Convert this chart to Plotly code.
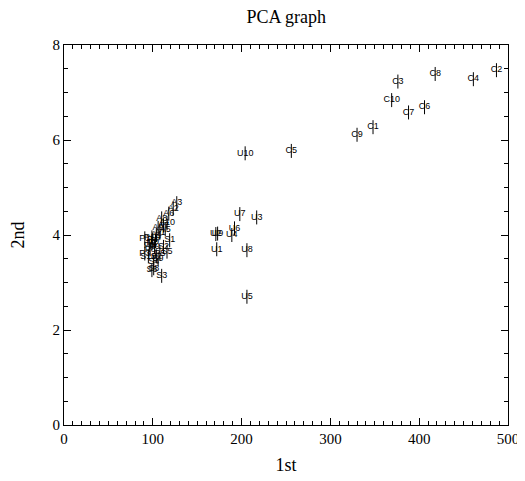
import plotly.graph_objects as go

labels_c = ["C1", "C2", "C3", "C4", "C5", "C6", "C7", "C8", "C9", "C10"]
x_c = [348, 487, 376, 461, 256, 406, 388, 418, 330, 369]
y_c = [6.27, 7.47, 7.23, 7.28, 5.77, 6.69, 6.58, 7.39, 6.11, 6.84]

labels_u = ["U1", "U2", "U3", "U4", "U5", "U6", "U7", "U8", "U9", "U10"]
x_u = [172, 171, 217, 189, 206, 192, 198, 206, 173, 204]
y_u = [3.70, 4.02, 4.37, 4.00, 2.70, 4.14, 4.44, 3.68, 4.03, 5.72]

labels_a = ["A1", "A2", "A3", "A4", "A5", "A6", "A7", "A8", "A9", "A10"]
x_a = [108, 123, 127, 104, 114, 118, 112, 110, 106, 116]
y_a = [4.05, 4.56, 4.67, 4.00, 4.12, 4.45, 4.20, 4.35, 4.15, 4.25]

labels_p = ["P1", "P2", "P3", "P4", "P5", "P6", "P7", "P8", "P9", "P10"]
x_p = [91, 99, 91, 100, 108, 96, 103, 97, 102, 99]
y_p = [3.93, 3.83, 3.61, 3.90, 3.61, 3.78, 3.87, 3.70, 3.75, 3.95]

labels_s = ["S1", "S2", "S3", "S4", "S5", "S6", "S7", "S8", "S9", "S10"]
x_s = [119, 112, 110, 101, 116, 99, 104, 101, 106, 95]
y_s = [3.89, 3.75, 3.14, 3.44, 3.65, 3.26, 3.55, 3.30, 3.50, 3.55]

x_ticks = [0, 100, 200, 300, 400, 500]
y_ticks = [0, 2, 4, 6, 8]

fig = go.Figure()
for xs, ys, ls in [(x_c, y_c, labels_c), (x_u, y_u, labels_u), (x_a, y_a, labels_a),
                   (x_p, y_p, labels_p), (x_s, y_s, labels_s)]:
    fig.add_trace(go.Scatter(
        x=xs, y=ys, text=ls, mode="markers+text",
        textposition="middle center",
        textfont=dict(family="Liberation Sans", size=9, color="black"),
        marker=dict(symbol="line-ns", size=10, color="black", line=dict(color="black", width=1)),
        showlegend=False, hoverinfo="x+y+text", cliponaxis=False))

axis_common = dict(
    showgrid=False, zeroline=False, showline=True, linecolor="black", linewidth=1,
    mirror="allticks", ticks="inside", ticklen=7, tickcolor="black", tickwidth=1,
    tickfont=dict(family="Liberation Serif", size=15, color="black"),
    automargin=False,
)
fig.update_xaxes(range=[0, 500], tickvals=x_ticks,
                 minor=dict(ticks="inside", dtick=10, ticklen=4, tickcolor="black", showgrid=False),
                 title=dict(text="1st", font=dict(family="Liberation Serif", size=18, color="black"), standoff=12),
                 **axis_common)
fig.update_yaxes(range=[0, 8], tickvals=y_ticks,
                 minor=dict(ticks="inside", dtick=0.5, ticklen=4, tickcolor="black", showgrid=False),
                 title=dict(text="2nd", font=dict(family="Liberation Serif", size=18, color="black"), standoff=24),
                 **axis_common)
fig.update_layout(
    width=525, height=481,
    margin=dict(l=56, r=25, t=37, b=64, autoexpand=False),
    paper_bgcolor="white", plot_bgcolor="white",
    title=dict(text="PCA graph", x=0.53, xanchor="center", y=0.996, yanchor="top",
               font=dict(family="Liberation Serif", size=18, color="black")),
)
fig.write_html("out.html")
